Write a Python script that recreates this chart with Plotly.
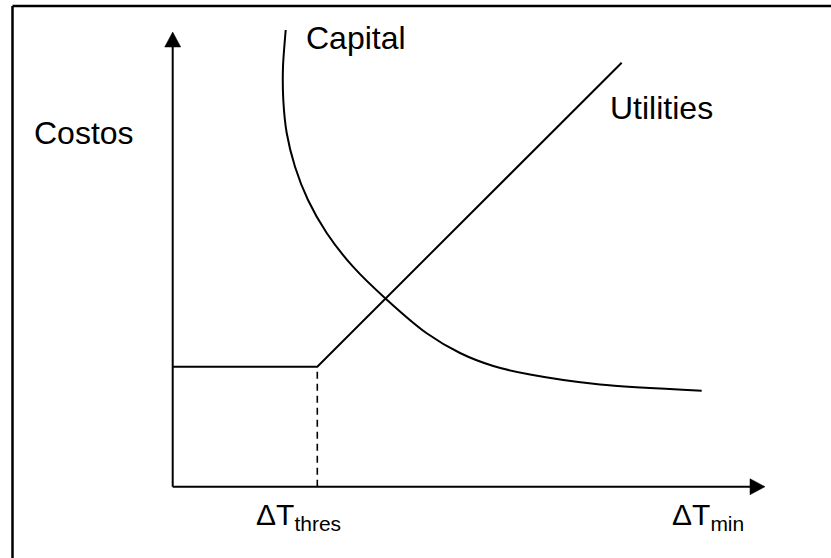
import plotly.graph_objects as go

# ---- data (arbitrary ΔT_min units on x, arbitrary cost units on y) ----
utilities_x = [0.0, 14.46, 44.9]
utilities_y = [12.0, 12.0, 42.4]

capital_x = [11.30, 11.03, 11.06, 11.40, 12.23, 13.53, 15.40, 18.03, 21.33, 25.40,
             28.73, 32.06, 35.73, 42.73, 52.90]
capital_y = [45.67, 42.00, 38.67, 35.37, 32.00, 28.67, 25.37, 22.00, 18.77, 15.34,
             13.37, 12.07, 11.22, 10.22, 9.60]

threshold_x = 14.46          # ΔT_thres
threshold_y = 12.0           # flat utilities level
x_axis_end = 59.23           # arrow tip of ΔT_min axis
y_axis_end = 45.47           # arrow tip of cost axis

label_texts = ["Costos", "Capital", "Utilities", "ΔT<sub>thres</sub>", "ΔT<sub>min</sub>"]
label_x = [-14.07, 13.13, 43.53, 8.13, 49.73]
label_y = [35.37, 44.92, 37.87, -2.93, -2.93]
label_size = [32, 32, 32, 30, 30]

# ---- figure ----
W, H = 831, 558
x_range = [-17.27, 65.83]
y_range = [-7.13, 48.67]
px_x = (x_range[1] - x_range[0]) / W   # data units per pixel
px_y = (y_range[1] - y_range[0]) / H

FONT = "Arial, Liberation Sans, sans-serif"
LW = 2

fig = go.Figure()

fig.add_trace(go.Scatter(x=capital_x, y=capital_y, mode="lines",
                         line=dict(color="black", width=LW, shape="spline", smoothing=0.7),
                         hoverinfo="skip", showlegend=False))
fig.add_trace(go.Scatter(x=utilities_x, y=utilities_y, mode="lines",
                         line=dict(color="black", width=LW),
                         hoverinfo="skip", showlegend=False))
fig.add_trace(go.Scatter(x=[threshold_x, threshold_x], y=[0, threshold_y], mode="lines",
                         line=dict(color="black", width=1.6, dash="7px,5px"),
                         hoverinfo="skip", showlegend=False))

shapes = []
head_len, head_half = 15, 8   # pixels
# y axis
shapes.append(dict(type="line", xref="x", yref="y", x0=0, y0=0, x1=0,
                   y1=y_axis_end - head_len * px_y, line=dict(color="black", width=LW)))
shapes.append(dict(type="path", xref="x", yref="y",
                   path=f"M {-head_half*px_x} {y_axis_end - head_len*px_y} L {head_half*px_x} {y_axis_end - head_len*px_y} L 0 {y_axis_end} Z",
                   fillcolor="black", line=dict(color="black", width=0.5)))
# x axis
shapes.append(dict(type="line", xref="x", yref="y", x0=0, y0=0,
                   x1=x_axis_end - head_len * px_x, y1=0, line=dict(color="black", width=LW)))
shapes.append(dict(type="path", xref="x", yref="y",
                   path=f"M {x_axis_end - head_len*px_x} {-head_half*px_y} L {x_axis_end - head_len*px_x} {head_half*px_y} L {x_axis_end} 0 Z",
                   fillcolor="black", line=dict(color="black", width=0.5)))
# frame: top and left edges visible in the reference
frame_left = 12.5 / W
frame_top = 1 - 6 / H
shapes.append(dict(type="line", xref="paper", yref="paper", x0=frame_left, x1=1.0,
                   y0=frame_top, y1=frame_top, line=dict(color="black", width=2.5)))
shapes.append(dict(type="line", xref="paper", yref="paper", x0=frame_left, x1=frame_left,
                   y0=0.0, y1=frame_top, line=dict(color="black", width=2.5)))

annotations = []
for t, x, y, s in zip(label_texts, label_x, label_y, label_size):
    annotations.append(dict(text=t, x=x, y=y, xref="x", yref="y", showarrow=False,
                            xanchor="left", yanchor="middle",
                            font=dict(family=FONT, size=s, color="black")))

fig.update_layout(
    width=W, height=H, margin=dict(l=0, r=0, t=0, b=0),
    paper_bgcolor="white", plot_bgcolor="white",
    xaxis=dict(range=x_range, visible=False, fixedrange=True),
    yaxis=dict(range=y_range, visible=False, fixedrange=True),
    shapes=shapes, annotations=annotations, showlegend=False,
)

fig.write_html("out.html",
               config={"displayModeBar": False, "staticPlot": True},
               post_script="document.body.style.margin='0';document.body.style.overflow='hidden';")
